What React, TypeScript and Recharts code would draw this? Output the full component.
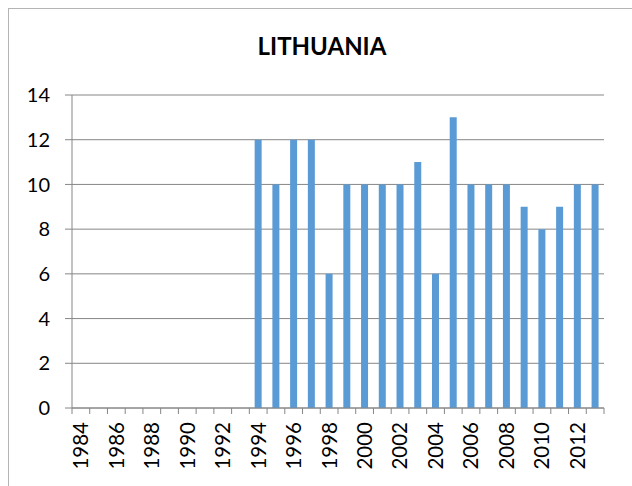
import React from 'react';
import { BarChart, Bar, XAxis, YAxis, CartesianGrid } from 'recharts';

// Years on the category axis, 1984..2013
const years = [
  '1984', '1985', '1986', '1987', '1988', '1989', '1990', '1991', '1992', '1993',
  '1994', '1995', '1996', '1997', '1998', '1999', '2000', '2001', '2002', '2003',
  '2004', '2005', '2006', '2007', '2008', '2009', '2010', '2011', '2012', '2013',
];

// No values before 1994
const values: (number | null)[] = [
  null, null, null, null, null, null, null, null, null, null,
  12, 10, 12, 12, 6, 10, 10, 10, 10, 11,
  6, 13, 10, 10, 10, 9, 8, 9, 10, 10,
];

const yTicks = [0, 2, 4, 6, 8, 10, 12, 14];

const W = 632;
const H = 486;
const MARGIN = { top: 95, right: 28, bottom: 0, left: 12 };
const Y_AXIS_W = 60;
const X_AXIS_H = 78;
const AXIS_COLOR = '#868686';
const FONT = 'Lato, "Open Sans", sans-serif';

const data = years.map((year, i) => ({ year, value: values[i] }));
const band = (W - MARGIN.left - MARGIN.right - Y_AXIS_W) / years.length;

const YearTick = (props: any) => {
  const { x, y, payload } = props;
  const index = payload.index;
  const isLast = index === years.length - 1;
  return (
    <g>
      <line x1={x - band / 2} x2={x - band / 2} y1={y} y2={y + 6} stroke={AXIS_COLOR} />
      {isLast && <line x1={x + band / 2} x2={x + band / 2} y1={y} y2={y + 6} stroke={AXIS_COLOR} />}
      {index % 2 === 0 && (
        <text
          x={x}
          y={y + 14}
          dy="0.36em"
          textAnchor="end"
          transform={`rotate(-90, ${x}, ${y + 14})`}
          fill="#000"
          fontSize={20.5}
          fontFamily={FONT}
        >
          {payload.value}
        </text>
      )}
    </g>
  );
};

export default function App() {
  return (
    <div style={{ position: 'relative', width: W, height: H, overflow: 'hidden', background: '#fff' }}>
      <style>{'body{margin:0;overflow:hidden}'}</style>
      <div
        style={{
          position: 'absolute',
          left: 8,
          top: 8,
          width: 800,
          height: 800,
          borderLeft: '1px solid #b4b4b4',
          borderTop: '1px solid #b4b4b4',
        }}
      />
      <div
        style={{
          position: 'absolute',
          left: 0,
          width: W,
          top: 31,
          textAlign: 'center',
          fontFamily: FONT,
          fontWeight: 700,
          fontSize: 24,
          paddingLeft: 12,
          boxSizing: 'border-box',
        }}
      >
        LITHUANIA
      </div>
      <div style={{ position: 'absolute', left: 0, top: 0 }}>
        <BarChart width={W} height={H} data={data} margin={MARGIN} barCategoryGap="30%">
          <CartesianGrid vertical={false} stroke={AXIS_COLOR} strokeWidth={1} />
          <XAxis
            dataKey="year"
            interval={0}
            height={X_AXIS_H}
            tickLine={false}
            tickSize={0}
            tickMargin={0}
            stroke={AXIS_COLOR}
            tick={<YearTick />}
          />
          <YAxis
            width={Y_AXIS_W}
            domain={[0, 14]}
            ticks={yTicks}
            interval={0}
            tickSize={7}
            tickMargin={15}
            stroke={AXIS_COLOR}
            tick={{ fill: '#000', fontSize: 20, fontFamily: FONT }}
          />
          <Bar dataKey="value" fill="#5B9BD5" isAnimationActive={false} />
        </BarChart>
      </div>
    </div>
  );
}
